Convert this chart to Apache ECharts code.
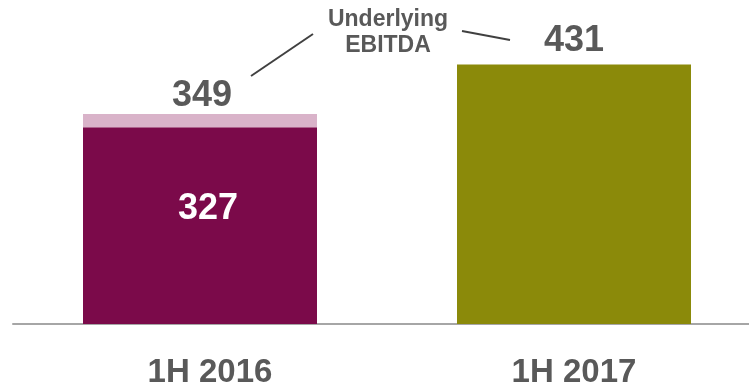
<!DOCTYPE html>
<html>
<head>
<meta charset="utf-8">
<script src="https://cdn.jsdelivr.net/npm/echarts@6/dist/echarts.min.js"></script>
<style>
  html, body { margin: 0; padding: 0; background: #ffffff; }
  #chart { width: 749px; height: 385px; }
</style>
</head>
<body>
<div id="chart"></div>
<script>
// Half-year EBITDA, in millions
const periods = ['1H 2016', '1H 2017'];
const reported2016 = [327, '-'];
const adjustment2016 = [22, '-'];
const underlying2017 = ['-', 431];

const totals = periods.map((_, i) =>
  [reported2016, adjustment2016, underlying2017]
    .reduce((s, arr) => s + (typeof arr[i] === 'number' ? arr[i] : 0), 0)
);

const FONT = '"Liberation Sans", Arial, sans-serif';
const GREY_TEXT = '#595959';

const chart = echarts.init(document.getElementById('chart'), null, { renderer: 'canvas' });

const valueLabel = {
  fontFamily: FONT,
  fontWeight: 'bold',
  fontSize: 36,
  color: GREY_TEXT
};

chart.setOption({
  animation: false,
  backgroundColor: '#ffffff',
  grid: { left: 13, width: 748, top: 23, bottom: 61, outerBoundsMode: 'none', containLabel: false },
  xAxis: {
    type: 'category',
    data: periods,
    axisTick: { show: false },
    axisLine: { show: true, lineStyle: { color: '#a6a6a6', width: 2 } },
    axisLabel: {
      margin: 32,
      fontFamily: FONT,
      fontWeight: 'bold',
      fontSize: 33,
      color: GREY_TEXT,
      formatter: (v, i) => (i === 0 ? '{a|' + v + '}' : '{b|' + v + '}'),
      rich: {
        a: { fontFamily: FONT, fontWeight: 'bold', fontSize: 33, color: GREY_TEXT, padding: [0, 0, 0, 20] },
        b: { fontFamily: FONT, fontWeight: 'bold', fontSize: 33, color: GREY_TEXT }
      }
    }
  },
  yAxis: {
    type: 'value',
    min: 0,
    max: 500,
    show: false,
    splitLine: { show: false }
  },
  series: [
    {
      name: 'Reported',
      type: 'bar',
      stack: 'ebitda',
      barWidth: 234,
      data: reported2016,
      itemStyle: { color: '#7b0a4a' },
      label: {
        show: true,
        position: 'inside',
        offset: [8, -16],
        fontFamily: FONT,
        fontWeight: 'bold',
        fontSize: 36,
        color: '#ffffff'
      }
    },
    {
      name: 'Adjustment',
      type: 'bar',
      stack: 'ebitda',
      barWidth: 234,
      data: adjustment2016,
      itemStyle: { color: '#d9b3c9' },
      label: Object.assign({}, valueLabel, {
        show: true,
        position: 'top',
        distance: 0,
        offset: [2, 0],
        formatter: (p) => String(totals[p.dataIndex])
      })
    },
    {
      name: 'Underlying',
      type: 'bar',
      stack: 'ebitda',
      barWidth: 234,
      data: underlying2017,
      itemStyle: { color: '#8b8a0a' },
      label: Object.assign({}, valueLabel, {
        show: true,
        position: 'top',
        distance: 5,
        formatter: (p) => String(totals[p.dataIndex])
      })
    }
  ],
  graphic: [
    {
      type: 'text',
      x: 388,
      y: 33,
      style: {
        text: 'Underlying\nEBITDA',
        align: 'center',
        verticalAlign: 'middle',
        lineHeight: 26,
        fontFamily: FONT,
        fontWeight: 'bold',
        fontSize: 23,
        fill: GREY_TEXT
      }
    },
    {
      type: 'line',
      shape: { x1: 251, y1: 76, x2: 313, y2: 34 },
      style: { stroke: '#404040', lineWidth: 2 }
    },
    {
      type: 'line',
      shape: { x1: 462, y1: 31, x2: 510, y2: 40 },
      style: { stroke: '#404040', lineWidth: 2 }
    }
  ]
});
</script>
</body>
</html>
